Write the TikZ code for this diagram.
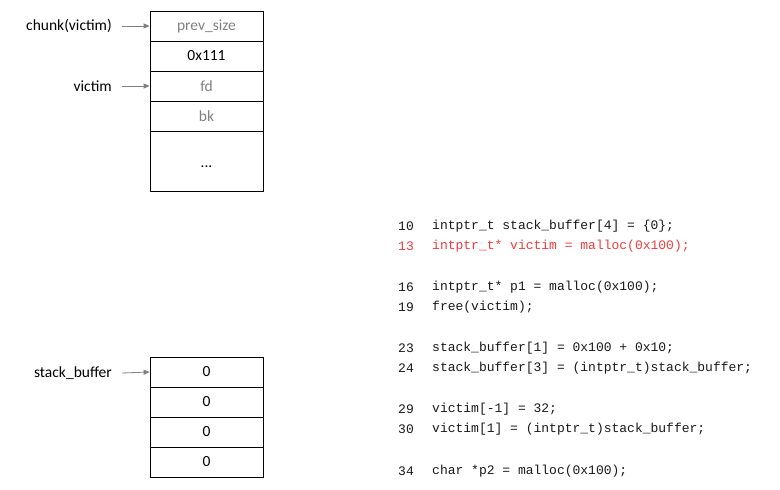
\documentclass[tikz,border=0pt]{standalone}
\usepackage{fontspec}
\setmainfont{Carlito}
\newfontfamily\codefont{Liberation Mono}
\usepackage{tikz}
\usetikzlibrary{positioning,arrows.meta}
\definecolor{memgray}{RGB}{128,128,128}
\definecolor{codetext}{RGB}{25,25,25}
\definecolor{codered}{RGB}{238,60,60}

\tikzset{
  cell/.style={draw,line width=0.8pt,minimum width=113pt,minimum height=30pt,inner sep=0pt,font=\fontsize{15.5}{18}\selectfont},
  ptrlabel/.style={anchor=east,inner sep=0pt,font=\fontsize{15.5}{18}\selectfont},
  ptr/.style={memgray,line width=0.8pt,-{Triangle[length=6pt,width=5pt]}},
  codeline/.style={anchor=west,inner sep=0pt,text=codetext,font=\codefont\fontsize{13}{15}\selectfont}
}

\begin{document}
\begin{tikzpicture}[x=1pt,y=-1pt]
\useasboundingbox (0,0) rectangle (780,490);

% Chunk of victim
\node[cell,text=memgray] (prevsize) at (206.5,26) {prev\_size};
\node[cell] (size) at (206.5,56) {0x111};
\node[cell,text=memgray] (fd) at (206.5,86) {fd};
\node[cell,text=memgray] (bk) at (206.5,116) {bk};
\node[cell,minimum height=60pt,text height=13pt,text depth=0pt] (rest) at (206.5,161) {...};

\node[ptrlabel] (chunklbl) at (112,26) {chunk(victim)};
\node[ptrlabel] (victimlbl) at (112,86) {victim};
\draw[ptr] ([xshift=10pt]chunklbl.east) -- (prevsize.west);
\draw[ptr] ([xshift=10pt]victimlbl.east) -- (fd.west);

% stack_buffer on the stack
\node[cell] (sb0) at (206.5,372) {0};
\node[cell] (sb1) at (206.5,402) {0};
\node[cell] (sb2) at (206.5,432) {0};
\node[cell] (sb3) at (206.5,462) {0};

\node[ptrlabel] (sblbl) at (112,373) {stack\_buffer};
\draw[ptr] ([xshift=10pt]sblbl.east) -- (sb0.west);

% Source lines
\node[codeline] (n10) at (398,226) {10};
\node[codeline] (c10) at (432,226) {intptr\_t stack\_buffer[4] = \{0\};};
\node[codeline,text=codered] (n13) at (398,246) {13};
\node[codeline,text=codered] (c13) at (432,246) {intptr\_t* victim = malloc(0x100);};

\node[codeline] (n16) at (398,287) {16};
\node[codeline] (c16) at (432,287) {intptr\_t* p1 = malloc(0x100);};
\node[codeline] (n19) at (398,307) {19};
\node[codeline] (c19) at (432,307) {free(victim);};

\node[codeline] (n23) at (398,348) {23};
\node[codeline] (c23) at (432,348) {stack\_buffer[1] = 0x100 + 0x10;};
\node[codeline] (n24) at (398,368) {24};
\node[codeline] (c24) at (432,368) {stack\_buffer[3] = (intptr\_t)stack\_buffer;};

\node[codeline] (n29) at (398,409) {29};
\node[codeline] (c29) at (432,409) {victim[-1] = 32;};
\node[codeline] (n30) at (398,429) {30};
\node[codeline] (c30) at (432,429) {victim[1] = (intptr\_t)stack\_buffer;};

\node[codeline] (n34) at (398,471) {34};
\node[codeline] (c34) at (432,471) {char *p2 = malloc(0x100);};
\end{tikzpicture}
\end{document}
